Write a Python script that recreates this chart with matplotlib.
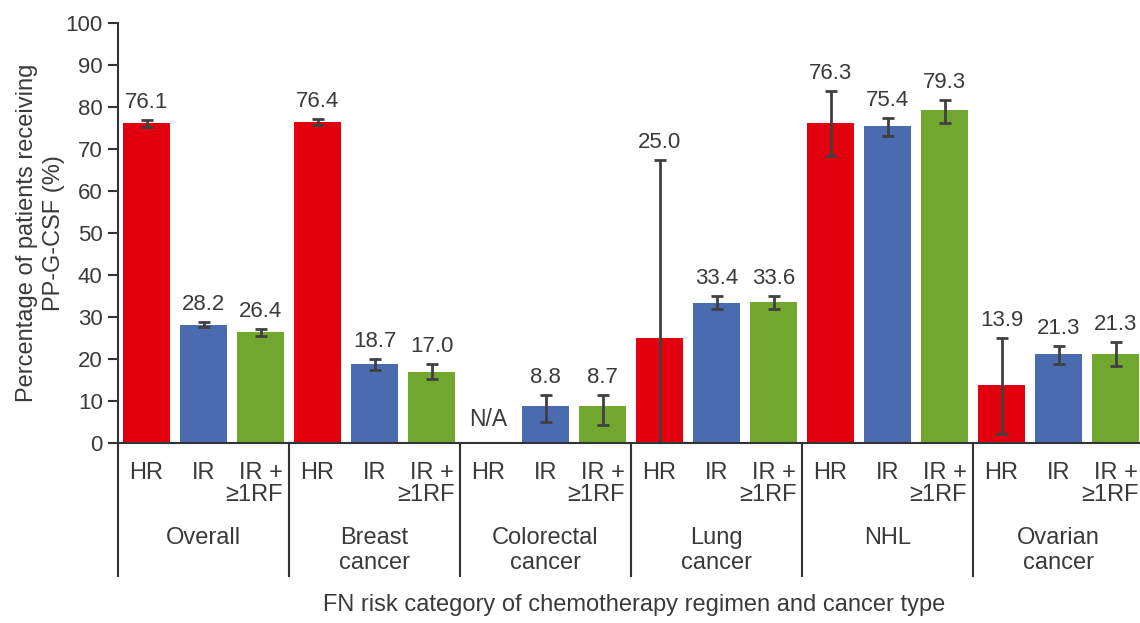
import numpy as np
import matplotlib.pyplot as plt
import matplotlib.transforms as mtransforms

plt.rcParams['font.family'] = ['Liberation Sans', 'DejaVu Sans']

# Data
cancer_types = ["Overall", "Breast\ncancer", "Colorectal\ncancer", "Lung\ncancer", "NHL", "Ovarian\ncancer"]
risk_labels = ["HR", "IR", "IR +\n≥1RF"]
values = [76.1, 28.2, 26.4,
          76.4, 18.7, 17.0,
          None, 8.8, 8.7,
          25.0, 33.4, 33.6,
          76.3, 75.4, 79.3,
          13.9, 21.3, 21.3]
ci_low = [75.2, 27.6, 25.5,
          75.6, 17.4, 15.2,
          None, 5.1, 4.4,
          0.0, 31.8, 31.8,
          68.3, 73.2, 76.3,
          2.1, 18.7, 18.3]
ci_high = [77.0, 28.8, 27.2,
           77.2, 20.0, 18.8,
           None, 11.4, 11.4,
           67.4, 34.9, 34.9,
           83.9, 77.3, 81.7,
           24.9, 23.2, 24.0]

colors = ["#E2000F", "#4A6BAF", "#71A62F"]
text_color = "#3a3a3a"
line_color = "#333333"

n_groups = len(cancer_types)
n_risk = len(risk_labels)
x = np.arange(n_groups * n_risk)
vals = np.array([np.nan if v is None else v for v in values])
lo = np.array([np.nan if v is None else v for v in ci_low])
hi = np.array([np.nan if v is None else v for v in ci_high])
bar_colors = [colors[i % n_risk] for i in x]

fig = plt.figure(figsize=(11.4, 6.23), dpi=100)
ax = fig.add_axes([118 / 1140, 180 / 623, 1026 / 1140, 420 / 623])

ax.bar(x, np.nan_to_num(vals), width=0.81, color=bar_colors)
ax.errorbar(x, vals, yerr=[vals - lo, hi - vals], fmt="none", ecolor="#404040",
            elinewidth=2, capsize=4, capthick=2)

# value labels
for xi, v, h in zip(x, vals, hi):
    if np.isnan(v):
        ax.annotate("N/A", xy=(xi, 0), xytext=(0, 9), textcoords="offset points",
                    ha="center", va="bottom", fontsize=16.5, color=text_color)
    else:
        ax.annotate(f"{v:.1f}", xy=(xi, h), xytext=(0, 5), textcoords="offset points",
                    ha="center", va="bottom", fontsize=16, color=text_color)

ax.set_xlim(-0.5, n_groups * n_risk - 0.5)
ax.set_ylim(0, 100)
ax.set_yticks(np.arange(0, 101, 10))
ax.tick_params(axis="y", direction="out", length=7, width=1.5, color=line_color,
               labelsize=16, labelcolor=text_color, pad=4)

ax.set_xticks(x)
ax.set_xticklabels(risk_labels * n_groups, fontsize=17, color=text_color,
                   multialignment="right", linespacing=1.0)
ax.tick_params(axis="x", length=0, pad=13.5)
# nudge the two-line labels left so they sit inside their group
shift = mtransforms.ScaledTranslation(-6 / 100, 0, fig.dpi_scale_trans)
for lbl in ax.get_xticklabels():
    if "\n" in lbl.get_text():
        lbl.set_transform(lbl.get_transform() + shift)

for s in ["top", "right"]:
    ax.spines[s].set_visible(False)
for s in ["left", "bottom"]:
    ax.spines[s].set_linewidth(1.5)
    ax.spines[s].set_color(line_color)

# group separators extending below the axis
trans = mtransforms.blended_transform_factory(ax.transData, ax.transAxes)
for g in range(n_groups + 1):
    xs = g * n_risk - 0.5
    ax.plot([xs, xs], [0, -0.317], transform=trans, color=line_color,
            linewidth=1.5, clip_on=False)

# cancer type labels
for g, name in enumerate(cancer_types):
    ax.text(g * n_risk + 1, -0.2, name, transform=trans, ha="center", va="top",
            fontsize=17, color=text_color, linespacing=1.2)

ax.set_ylabel("Percentage of patients receiving\nPP-G-CSF (%)", fontsize=17,
              color=text_color, linespacing=1.3)
ax.yaxis.set_label_coords(-0.052, 0.5)
ax.set_xlabel("FN risk category of chemotherapy regimen and cancer type",
              fontsize=17, color=text_color)
ax.xaxis.set_label_coords((634 - 118) / 1026, -0.36)

fig.savefig("out.png", dpi=100)
